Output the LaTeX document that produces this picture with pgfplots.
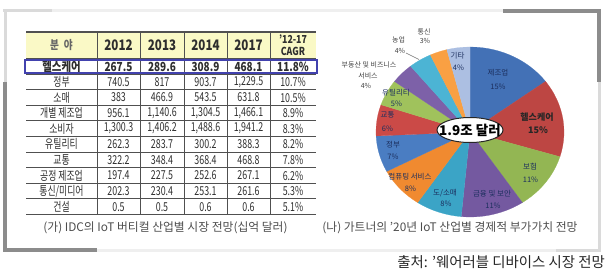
\documentclass[border=0pt]{standalone}
\usepackage{fontspec}
\setmainfont{Noto Sans CJK KR}
\newfontfamily\tbl[FakeStretch=0.72]{Noto Sans CJK KR}
\newfontfamily\hdr[FakeStretch=0.8]{Noto Sans CJK KR}
\usepackage{pgfplots}
\pgfplotsset{compat=1.18}
\definecolor{sA}{HTML}{4371B6}
\definecolor{sB}{HTML}{BD4643}
\definecolor{sC}{HTML}{93B653}
\definecolor{sD}{HTML}{7459A0}
\definecolor{sE}{HTML}{3BA4C6}
\definecolor{sF}{HTML}{F08A30}
\definecolor{sG}{HTML}{4A7DC2}
\definecolor{sH}{HTML}{CB4A47}
\definecolor{sI}{HTML}{A0C25C}
\definecolor{sJ}{HTML}{7D61A8}
\definecolor{sK}{HTML}{4CB4D4}
\definecolor{sL}{HTML}{F9A043}
\definecolor{sM}{HTML}{ACBFE2}
\definecolor{cDark}{HTML}{8C8C8C}
\definecolor{cLight}{HTML}{DADADA}
\definecolor{cFaint}{HTML}{EFEFEF}
\definecolor{hdrfill}{HTML}{FAF9C6}
\definecolor{grid}{HTML}{505050}
\definecolor{txt}{HTML}{2E2E2E}
\definecolor{navy}{HTML}{1C2F5E}
\definecolor{boxblue}{HTML}{4242AE}
\newcommand\tf{\tbl\fontsize{12.3bp}{13bp}\selectfont}
\newcommand\trow[7]{%
  \node[font=\tf, text=txt] at (axis cs:61.5,#1) {#2};
  \node[font=\tf, text=txt] at (axis cs:118.5,#1) {#3};
  \node[font=\tf, text=txt] at (axis cs:162,#1) {#4};
  \node[font=\tf, text=txt] at (axis cs:205.5,#1) {#5};
  \node[font=\tf, text=txt] at (axis cs:248.5,#1) {#6};
  \node[font=\tf, text=txt] at (axis cs:293,#1) {#7};
}
\newcommand\pl[3]{\node[font=\fontsize{7.5bp}{8bp}\selectfont, text=navy, inner sep=0pt] at (axis cs:#1,#2) {#3};}
\newcommand\po[3]{\node[font=\fontsize{7bp}{8bp}\selectfont, text=black!75, inner sep=0pt] at (axis cs:#1,#2) {#3};}
\begin{document}
\begin{tikzpicture}
% ---------- pie (share of 1.9 trillion dollars, %) ----------
\begin{axis}[at={(376bp,58bp)}, anchor=south west, scale only axis,
  width=188bp, height=170bp, xmin=-1, xmax=1, ymin=-1, ymax=1,
  hide axis, clip=false]
% 제조업 15%
\addplot[data cs=polar, fill=sA, draw=sA, line width=0.2pt] coordinates {(0,0) (90,1) (86.436,1) (82.871,1) (79.307,1) (75.743,1) (72.178,1) (68.614,1) (65.050,1) (61.485,1) (57.921,1) (54.356,1) (50.792,1) (47.228,1) (43.663,1) (40.099,1) (36.535,1) (0,0)};
% 헬스케어 15%
\addplot[data cs=polar, fill=sB, draw=sB, line width=0.2pt] coordinates {(0,0) (36.535,1) (32.970,1) (29.406,1) (25.842,1) (22.277,1) (18.713,1) (15.149,1) (11.584,1) (8.020,1) (4.455,1) (0.891,1) (-2.673,1) (-6.238,1) (-9.802,1) (-13.366,1) (-16.931,1) (0,0)};
% 보험 11%
\addplot[data cs=polar, fill=sC, draw=sC, line width=0.2pt] coordinates {(0,0) (-16.931,1) (-20.495,1) (-24.059,1) (-27.624,1) (-31.188,1) (-34.752,1) (-38.317,1) (-41.881,1) (-45.446,1) (-49.010,1) (-52.574,1) (-56.139,1) (0,0)};
% 금융 및 보안 11%
\addplot[data cs=polar, fill=sD, draw=sD, line width=0.2pt] coordinates {(0,0) (-56.139,1) (-59.703,1) (-63.267,1) (-66.832,1) (-70.396,1) (-73.960,1) (-77.525,1) (-81.089,1) (-84.653,1) (-88.218,1) (-91.782,1) (-95.347,1) (0,0)};
% 도/소매 8%
\addplot[data cs=polar, fill=sE, draw=sE, line width=0.2pt] coordinates {(0,0) (-95.347,1) (-98.911,1) (-102.475,1) (-106.040,1) (-109.604,1) (-113.168,1) (-116.733,1) (-120.297,1) (-123.861,1) (0,0)};
% 컴퓨팅 서비스 8%
\addplot[data cs=polar, fill=sF, draw=sF, line width=0.2pt] coordinates {(0,0) (-123.861,1) (-127.426,1) (-130.990,1) (-134.554,1) (-138.119,1) (-141.683,1) (-145.248,1) (-148.812,1) (-152.376,1) (0,0)};
% 정부 7%
\addplot[data cs=polar, fill=sG, draw=sG, line width=0.2pt] coordinates {(0,0) (-152.376,1) (-155.941,1) (-159.505,1) (-163.069,1) (-166.634,1) (-170.198,1) (-173.762,1) (-177.327,1) (0,0)};
% 교통 6%
\addplot[data cs=polar, fill=sH, draw=sH, line width=0.2pt] coordinates {(0,0) (-177.327,1) (-180.891,1) (-184.455,1) (-188.020,1) (-191.584,1) (-195.149,1) (-198.713,1) (0,0)};
% 유틸리티 5%
\addplot[data cs=polar, fill=sI, draw=sI, line width=0.2pt] coordinates {(0,0) (-198.713,1) (-202.277,1) (-205.842,1) (-209.406,1) (-212.970,1) (-216.535,1) (0,0)};
% 부동산 및 비즈니스 서비스 4%
\addplot[data cs=polar, fill=sJ, draw=sJ, line width=0.2pt] coordinates {(0,0) (-216.535,1) (-220.099,1) (-223.663,1) (-227.228,1) (-230.792,1) (0,0)};
% 농업 4%
\addplot[data cs=polar, fill=sK, draw=sK, line width=0.2pt] coordinates {(0,0) (-230.792,1) (-234.356,1) (-237.921,1) (-241.485,1) (-245.050,1) (0,0)};
% 통신 3%
\addplot[data cs=polar, fill=sL, draw=sL, line width=0.2pt] coordinates {(0,0) (-245.050,1) (-248.614,1) (-252.178,1) (-255.743,1) (0,0)};
% 기타 4%
\addplot[data cs=polar, fill=sM, draw=sM, line width=0.2pt] coordinates {(0,0) (-255.743,1) (-259.307,1) (-262.871,1) (-266.436,1) (-270,1) (0,0)};
\end{axis}
% ---------- page, table, captions, labels (pixel grid) ----------
\begin{axis}[name=main, at={(0,0)}, anchor=south west, scale only axis,
  width=606bp, height=275bp, xmin=0, xmax=606, ymin=0, ymax=275,
  y dir=reverse, hide axis, clip=false]
% frame
\draw[line width=3bp, cFaint] (axis cs:52,11) -- (axis cs:503,11);
\draw[line width=3bp, cFaint] (axis cs:97,250) -- (axis cs:556,250);
\draw[line width=3bp, cLight] (axis cs:3,11) -- (axis cs:52,11);
\draw[line width=3bp, cLight] (axis cs:5,11) -- (axis cs:5,82);
\draw[line width=3bp, cLight] (axis cs:599,82) -- (axis cs:599,250) -- (axis cs:556,250);
\draw[line width=3.5bp, cDark] (axis cs:5,82) -- (axis cs:5,250) -- (axis cs:97,250);
\draw[line width=3.5bp, cDark] (axis cs:503,11) -- (axis cs:599,11) -- (axis cs:599,82);
% table header
\fill[hdrfill] (axis cs:26,32) rectangle (axis cs:316,58.5);
\pgfplotsinvokeforeach{97,140,184,227,270}{\draw[grid, line width=0.8bp] (axis cs:#1,32) -- (axis cs:#1,214.5);}
\draw[grid, line width=2bp] (axis cs:26,32) -- (axis cs:316,32);
\draw[grid, line width=1.4bp] (axis cs:26,58.5) -- (axis cs:316,58.5);
\pgfplotsinvokeforeach{74.1,89.7,105.3,120.9,136.5,152.1,167.7,183.3,198.9}{\draw[grid, line width=1.1bp] (axis cs:26,#1) -- (axis cs:316,#1);}
\draw[grid, line width=1.6bp] (axis cs:26,214.5) -- (axis cs:316,214.5);
\node[font=\hdr\bfseries\fontsize{12bp}{13bp}\selectfont, text=black!60] at (axis cs:61.5,45) {분\hspace{5bp}야};
\node[font=\hdr\bfseries\fontsize{14.5bp}{16bp}\selectfont, text=txt] at (axis cs:118.5,45.5) {2012};
\node[font=\hdr\bfseries\fontsize{14.5bp}{16bp}\selectfont, text=txt] at (axis cs:162,45.5) {2013};
\node[font=\hdr\bfseries\fontsize{14.5bp}{16bp}\selectfont, text=txt] at (axis cs:205.5,45.5) {2014};
\node[font=\hdr\bfseries\fontsize{14.5bp}{16bp}\selectfont, text=txt] at (axis cs:248.5,45.5) {2017};
\node[font=\hdr\bfseries\fontsize{11bp}{11bp}\selectfont, text=txt, inner sep=0pt] at (axis cs:293,39.5) {’12-17};
\node[font=\hdr\bfseries\fontsize{11bp}{11bp}\selectfont, text=txt, inner sep=0pt] at (axis cs:293,51) {CAGR};
% rows (billion dollars)
\node[font=\hdr\bfseries\fontsize{13bp}{14bp}\selectfont, text=txt] at (axis cs:61.5,66.6) {헬스케어};
\node[font=\hdr\bfseries\fontsize{12.5bp}{14bp}\selectfont, text=txt] at (axis cs:118.5,66.6) {267.5};
\node[font=\hdr\bfseries\fontsize{12.5bp}{14bp}\selectfont, text=txt] at (axis cs:162,66.6) {289.6};
\node[font=\hdr\bfseries\fontsize{12.5bp}{14bp}\selectfont, text=txt] at (axis cs:205.5,66.6) {308.9};
\node[font=\hdr\bfseries\fontsize{12.5bp}{14bp}\selectfont, text=txt] at (axis cs:248.5,66.6) {468.1};
\node[font=\hdr\bfseries\fontsize{12.5bp}{14bp}\selectfont, text=txt] at (axis cs:293,66.6) {11.8\%};
\trow{81.9}{정부}{740.5}{817}{903.7}{1,229.5}{10.7\%}
\trow{97.5}{소매}{383}{466.9}{543.5}{631.8}{10.5\%}
\trow{113.1}{개별 제조업}{956.1}{1,140.6}{1,304.5}{1,466.1}{8.9\%}
\trow{128.7}{소비자}{1,300.3}{1,406.2}{1,488.6}{1,941.2}{8.3\%}
\trow{144.3}{유틸리티}{262.3}{283.7}{300.2}{388.3}{8.2\%}
\trow{159.9}{교통}{322.2}{348.4}{368.4}{468.8}{7.8\%}
\trow{175.5}{공정 제조업}{197.4}{227.5}{252.6}{267.1}{6.2\%}
\trow{191.1}{통신/미디어}{202.3}{230.4}{253.1}{261.6}{5.3\%}
\trow{206.7}{건설}{0.5}{0.5}{0.6}{0.6}{5.1\%}
\draw[boxblue, line width=1.5bp] (axis cs:25,60.2) rectangle (axis cs:317,73.2);
% captions
\node[font=\fontsize{11.8bp}{12bp}\selectfont, text=black!70] at (axis cs:165.5,228) {(가) IDC의 IoT 버티컬 산업별 시장 전망(십억 달러)};
\node[font=\fontsize{11.8bp}{12bp}\selectfont, text=black!70] at (axis cs:450,228) {(나) 가트너의 ’20년 IoT 산업별 경제적 부가가치 전망};
\node[font=\fontsize{14.4bp}{16bp}\selectfont, text=black!85, anchor=east, inner sep=0pt] at (axis cs:605,262) {출처: ’웨어러블 디바이스 시장 전망};
% pie labels
\pl{498}{73}{제조업}\pl{498}{87}{15\%}
\node[font=\bfseries\fontsize{9bp}{10bp}\selectfont, text=black!85, inner sep=0pt] at (axis cs:537,117.5) {헬스케어};
\node[font=\bfseries\fontsize{9bp}{10bp}\selectfont, text=black!85, inner sep=0pt] at (axis cs:538,130.5) {15\%};
\pl{530}{167}{보험}\pl{530.5}{180}{11\%}
\pl{492}{194}{금융 및 보안}\pl{493}{205.5}{11\%}
\pl{445}{193}{도/소매}\pl{446}{204}{8\%}
\pl{410}{177}{컴퓨팅 서비스}\pl{410.5}{188.5}{8\%}
\pl{393}{145}{정부}\pl{393}{157}{7\%}
\pl{387.5}{115}{교통}\pl{387.5}{128.5}{6\%}
\pl{396}{92.5}{유틸리티}\pl{396.5}{103.5}{5\%}
\pl{457.5}{55.5}{기타}\pl{458.5}{68}{4\%}
\po{424}{32}{통신}\po{425}{41}{3\%}
\po{398.5}{40}{농업}\po{400}{50.5}{4\%}
\draw[black!55, line width=0.6bp] (axis cs:406,53) -- (axis cs:419,59.5);
\po{369}{65}{부동산 및 비즈니스}\po{368}{76}{서비스}\po{366}{86}{4\%}
% centre label
\draw[fill=white, draw=black!85, line width=1bp] (axis cs:470,130) ellipse [x radius=33bp, y radius=12.5bp];
\node[font=\bfseries\fontsize{13.5bp}{14bp}\selectfont, text=black] at (axis cs:470,130) {1.9조 달러};
\end{axis}
\pgfresetboundingbox
\useasboundingbox (0,0) rectangle (606bp,275bp);
\end{tikzpicture}
\end{document}
